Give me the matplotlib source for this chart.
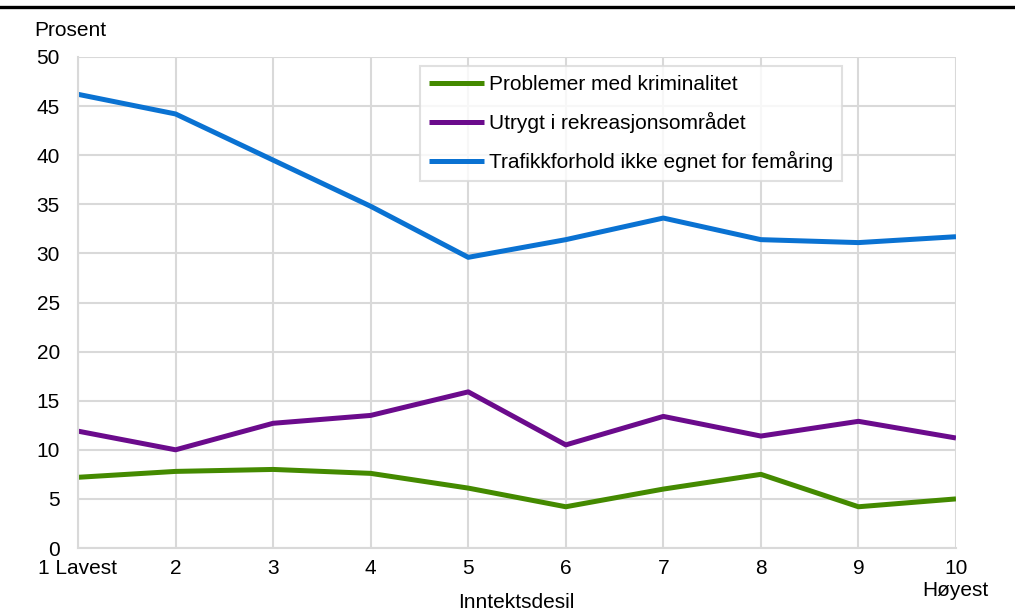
import numpy as np
import matplotlib.pyplot as plt
from matplotlib.lines import Line2D

plt.rcParams['font.family'] = ['Liberation Sans', 'DejaVu Sans']

deciles = [1, 2, 3, 4, 5, 6, 7, 8, 9, 10]
tick_labels = ['1 Lavest', '2', '3', '4', '5', '6', '7', '8', '9', '10']
kriminalitet = [7.2, 7.8, 8.0, 7.6, 6.1, 4.2, 6.0, 7.5, 4.2, 5.0]
rekreasjon = [11.9, 10.0, 12.7, 13.5, 15.9, 10.5, 13.4, 11.4, 12.9, 11.2]
trafikk = [46.2, 44.2, 39.5, 34.8, 29.6, 31.4, 33.6, 31.4, 31.1, 31.7]

fs = 15

fig = plt.figure(figsize=(10.15, 6.12), dpi=100)
ax = fig.add_axes([78/1015, 1-548/612, (956-78)/1015, (548-57)/612])

ax.plot(deciles, kriminalitet, color='#448a00', lw=3.6, label='Problemer med kriminalitet', solid_capstyle='butt')
ax.plot(deciles, rekreasjon, color='#6b0b8c', lw=3.6, label='Utrygt i rekreasjonsområdet', solid_capstyle='butt')
ax.plot(deciles, trafikk, color='#0a72d2', lw=3.6, label='Trafikkforhold ikke egnet for femåring', solid_capstyle='butt')

ax.set_xlim(1, 10)
ax.set_ylim(0, 50)
ax.set_xticks(deciles)
ax.set_xticklabels(tick_labels)
ax.set_yticks(np.arange(0, 51, 5))
ax.tick_params(length=0, labelsize=fs)
ax.tick_params(axis='x', pad=8)
ax.tick_params(axis='y', pad=13)
ax.grid(True, color='#d9d9d9', lw=1.5)
ax.set_axisbelow(True)
for s in ['top', 'right']:
    ax.spines[s].set_visible(False)
for s in ['left', 'bottom']:
    ax.spines[s].set_color('#d9d9d9')
    ax.spines[s].set_linewidth(1.5)

leg = ax.legend(loc='upper left', bbox_to_anchor=((420-78)/878, 1-(66-57)/491),
                fontsize=fs, frameon=True, fancybox=False, handlelength=2.6,
                handletextpad=0.25, borderpad=0.45, labelspacing=0.85,
                borderaxespad=0)
leg.get_frame().set_edgecolor('#d9d9d9')
leg.get_frame().set_linewidth(1.5)

fig.text(34/1015, 1-30/612, 'Prosent', fontsize=fs, ha='left', va='center')
fig.text(516/1015, 1-602/612, 'Inntektsdesil', fontsize=fs, ha='center', va='center')
fig.text(955/1015, 1-590/612, 'Høyest', fontsize=fs, ha='center', va='center')

fig.add_artist(Line2D([0, 1], [1-6.5/612, 1-6.5/612], color='black', lw=2.4, transform=fig.transFigure))

fig.savefig('out.png', dpi=100)
